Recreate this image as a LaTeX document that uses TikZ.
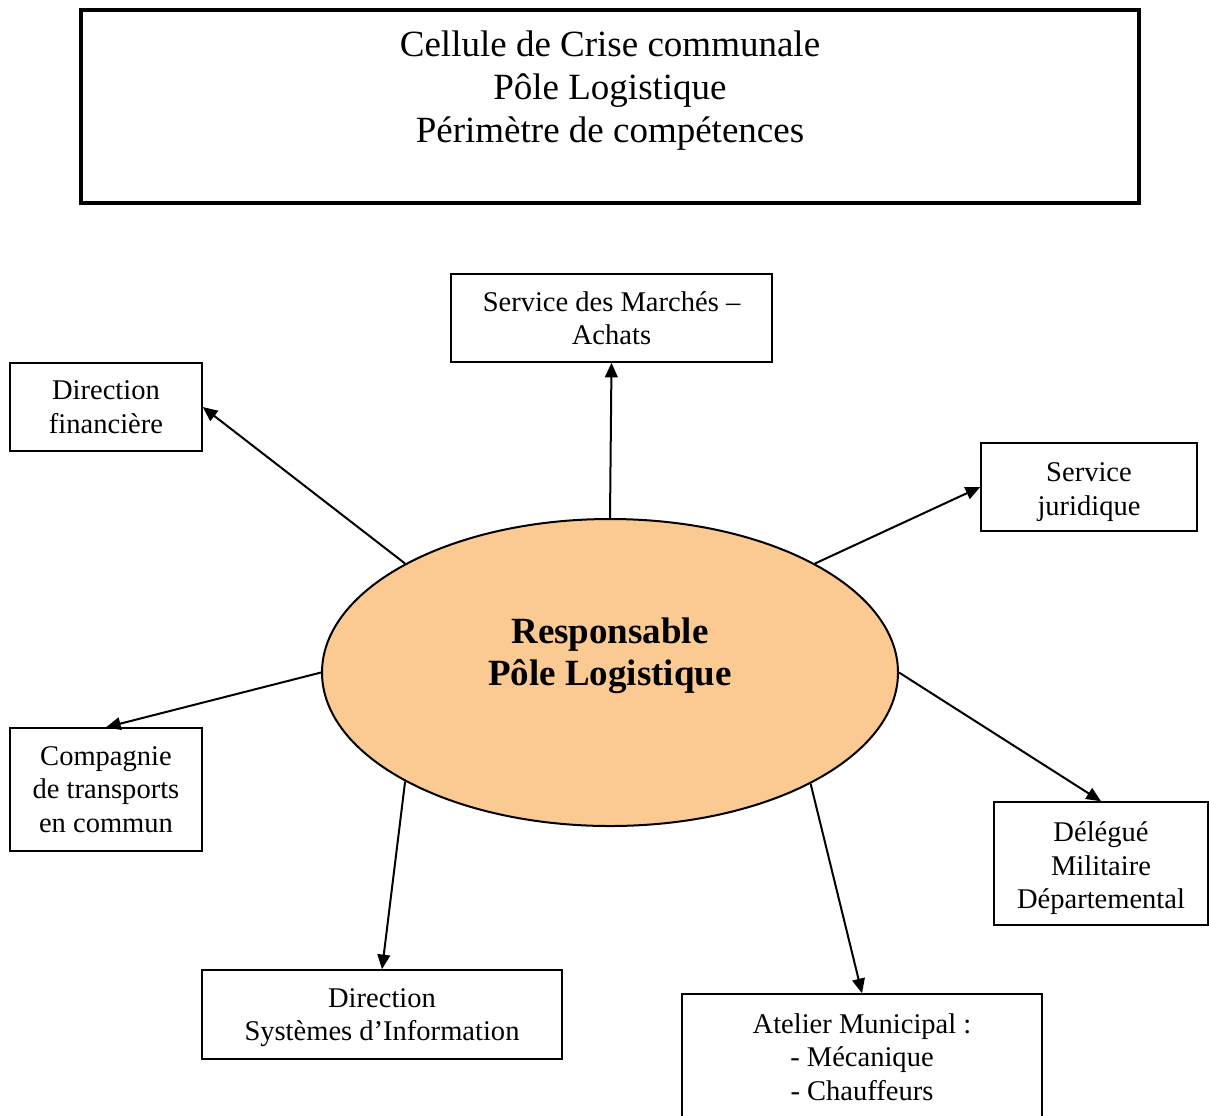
\documentclass[tikz,border=0pt]{standalone}
\usepackage{fontspec}
\setmainfont{Liberation Serif}
\usetikzlibrary{shapes.geometric,arrows.meta}
\definecolor{peach}{RGB}{251,201,146}
\begin{document}
\begin{tikzpicture}[x=0.75pt,y=-0.75pt,
  boxtext/.style={font=\fontsize{21.4}{25.1}\selectfont},
  unitbox/.style={draw=black,line width=1.1pt,rectangle,inner sep=0pt,align=center,boxtext},
  link/.style={line width=1.5pt,-{Triangle[length=11pt,width=9.5pt]}}]
\useasboundingbox (0,0) rectangle (1209,1115);
\clip (0,0) rectangle (1209,1115);

% header frame and its three lines
\node[draw=black,line width=3pt,rectangle,inner sep=0pt,
      minimum width=793.5pt,minimum height=144.75pt] (title) at (610,106.5) {};
\node[align=center,inner sep=0pt,font=\fontsize{27.75}{32.25}\selectfont] (titletext) at (610,91)
  {Cellule de Crise communale\\Pôle Logistique\\Périmètre de compétences};

% central ellipse and its caption (set a little above centre)
\node[ellipse,draw=black,line width=1.5pt,fill=peach,inner sep=0pt,
      minimum width=432pt,minimum height=230.25pt] (resp) at (610,672.5) {};
\node[align=center,inner sep=0pt,font=\bfseries\fontsize{27.75}{31.75}\selectfont]
  (resptext) at (610,655.5) {Responsable\\Pôle Logistique};

% surrounding services
\node[unitbox,minimum width=240.75pt,minimum height=66pt] (marches) at (611.5,318)
  {Service des Marchés --\\Achats};
\node[unitbox,minimum width=144pt,minimum height=66pt] (dirfin) at (106,407)
  {Direction\\financière};
\node[unitbox,minimum width=162pt,minimum height=66pt] (jur) at (1089,487)
  {\rule{0pt}{22.1pt}Service\\juridique};
\node[unitbox,minimum width=144pt,minimum height=92.25pt] (comp) at (106,789.5)
  {Compagnie\\de transports\\en commun};
\node[unitbox,minimum width=160.5pt,minimum height=92.25pt] (del) at (1101,863.5)
  {\rule{0pt}{22.1pt}Délégué\\Militaire\\Départemental};
\node[unitbox,minimum width=270pt,minimum height=66.75pt] (dsi) at (382,1014.5)
  {\rule{0pt}{19.1pt}Direction\\Systèmes d’Information};
\node[unitbox,minimum width=270pt,minimum height=94.5pt] (atelier) at (862,1057)
  {Atelier Municipal :\\- Mécanique\\- Chauffeurs};

% connectors
\draw[link] (resp.north) -- (marches.south);
\draw[link] (resp.152) -- (dirfin.east);
\draw[link] (resp.28) -- (jur.west);
\draw[link] (resp.west) -- (comp.north);
\draw[link] (resp.east) -- (del.north);
\draw[link] (resp.208.5) -- (dsi.north);
\draw[link] (resp.331.5) -- (atelier.north);
\end{tikzpicture}
\end{document}
